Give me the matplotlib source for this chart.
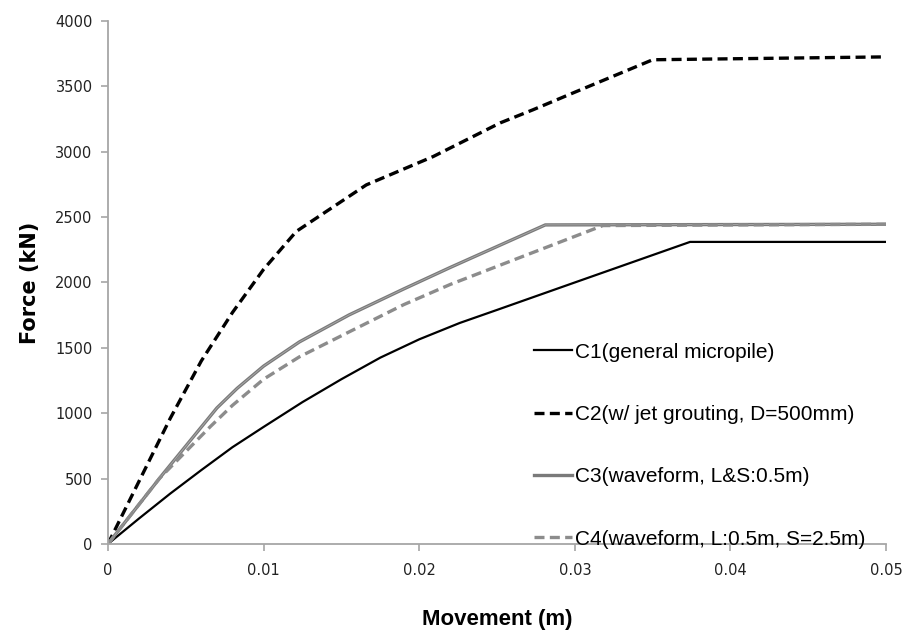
import matplotlib.pyplot as plt

# movement (m) / force (kN)
c1_x = [0, 0.002, 0.004, 0.006, 0.008, 0.010, 0.0125, 0.015, 0.0175, 0.020, 0.0226, 0.025, 0.030, 0.0374, 0.05]
c1_y = [0, 195, 385, 565, 740, 895, 1085, 1260, 1425, 1565, 1690, 1790, 2000, 2310, 2310]

c2_x = [0, 0.002, 0.004, 0.006, 0.008, 0.010, 0.0121, 0.0166, 0.0209, 0.0252, 0.0273, 0.030, 0.035, 0.05]
c2_y = [0, 480, 960, 1400, 1770, 2100, 2390, 2746, 2963, 3220, 3320, 3455, 3703, 3725]

c3_x = [0, 0.0035, 0.007, 0.0083, 0.010, 0.0123, 0.0155, 0.019, 0.022, 0.0281, 0.05]
c3_y = [0, 530, 1040, 1190, 1360, 1545, 1752, 1950, 2115, 2440, 2445]

c4_x = [0, 0.0033, 0.0066, 0.008, 0.010, 0.0123, 0.0155, 0.019, 0.022, 0.027, 0.0318, 0.05]
c4_y = [0, 500, 900, 1060, 1260, 1431, 1622, 1830, 1985, 2215, 2435, 2445]

labels = ['C1(general micropile)',
          'C2(w/ jet grouting, D=500mm)',
          'C3(waveform, L&S:0.5m)',
          'C4(waveform, L:0.5m, S=2.5m)']

fig = plt.figure(figsize=(9.07, 6.34), dpi=100)
ax = fig.add_axes([0.119, 0.142, 0.858, 0.825])

ax.plot(c1_x, c1_y, color='black', lw=1.6, label=labels[0])
ax.plot(c2_x, c2_y, color='black', lw=2.4, ls=(0, (3, 1.6)), label=labels[1])
ax.plot(c3_x, c3_y, color='#7a7a7a', lw=2.4, label=labels[2])
# light core, the reference line looks doubled
ax.plot(c3_x, c3_y, color='#ababab', lw=0.6)
ax.plot(c4_x, c4_y, color='#8c8c8c', lw=2.4, ls=(0, (3, 1.6)), label=labels[3])

ax.set_xlim(0, 0.05)
ax.set_ylim(0, 4000)
ax.set_xticks([0, 0.01, 0.02, 0.03, 0.04, 0.05])
ax.set_xticklabels(['0', '0.01', '0.02', '0.03', '0.04', '0.05'])
ax.set_yticks(range(0, 4001, 500))

for s in ['top', 'right']:
    ax.spines[s].set_visible(False)
for s in ['left', 'bottom']:
    ax.spines[s].set_color('#a6a6a6')
    ax.spines[s].set_linewidth(1.3)
ax.tick_params(direction='out', length=5, width=1.2, color='#a6a6a6',
               labelsize=10.5, labelcolor='#222222', pad=6)
ax.tick_params(axis='x', pad=9)

ax.set_xlabel('Movement (m)', fontsize=16, fontweight='bold', labelpad=22,
              family='Liberation Sans')
ax.set_ylabel('Force (kN)', fontsize=15, fontweight='bold', labelpad=11)

leg = ax.legend(loc='upper left', bbox_to_anchor=(0.524, 0.421), frameon=False,
                prop={'family': 'Liberation Sans', 'size': 15},
                handlelength=1.8, handletextpad=0.15, labelspacing=2.08)

fig.savefig('out.png', dpi=100)
